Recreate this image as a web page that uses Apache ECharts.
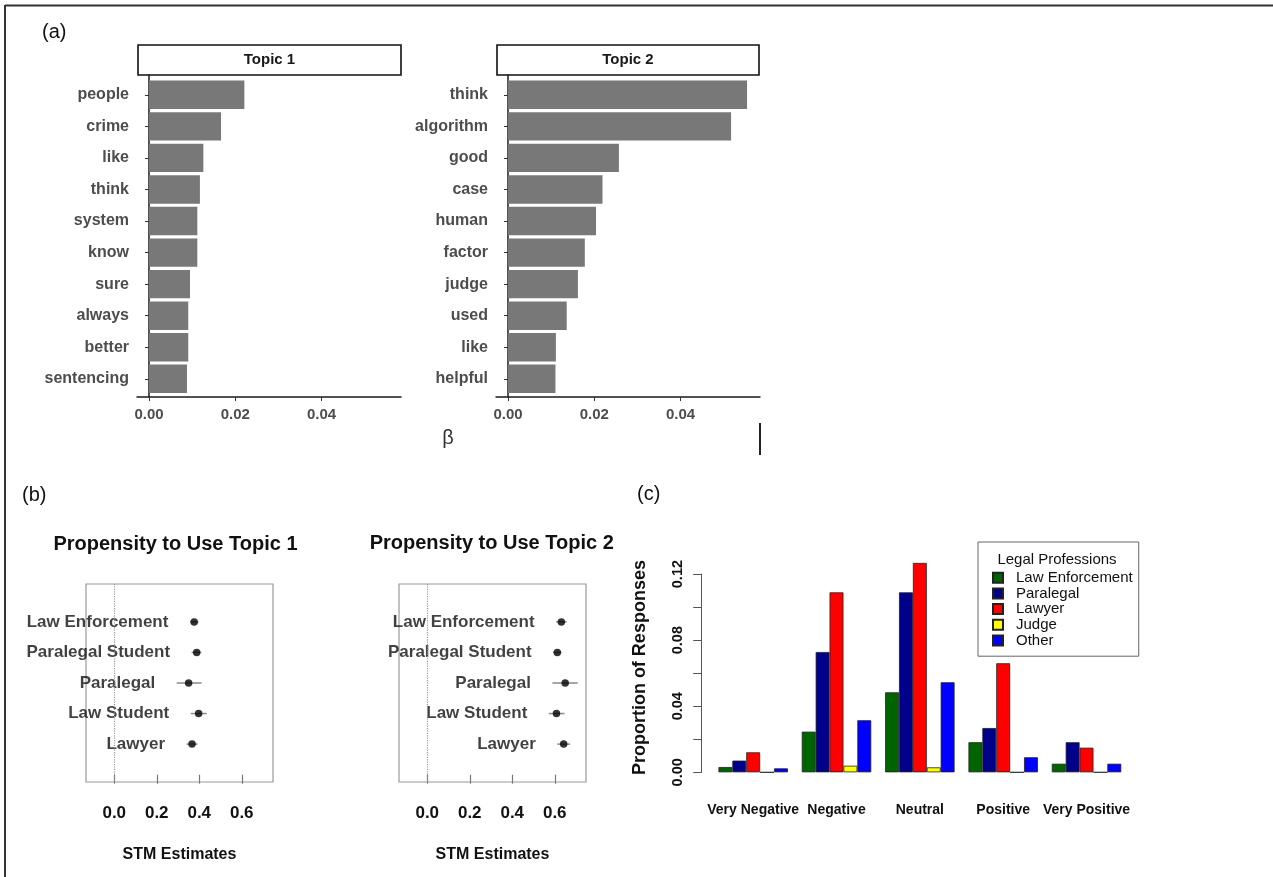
<!DOCTYPE html>
<html>
<head>
<meta charset="utf-8">
<script src="https://cdn.jsdelivr.net/npm/echarts@6/dist/echarts.min.js"></script>
<style>
html,body{margin:0;padding:0;background:#fff;}
#chart{width:1273px;height:877px;}
</style>
</head>
<body>
<div id="chart"></div>
<script>
// ---------- data: panel (a) ----------
const topic1Words = ['people','crime','like','think','system','know','sure','always','better','sentencing'];
const topic1Beta  = [0.0221,0.0167,0.0126,0.0118,0.0112,0.0112,0.0095,0.0091,0.0091,0.0088];
const topic2Words = ['think','algorithm','good','case','human','factor','judge','used','like','helpful'];
const topic2Beta  = [0.0554,0.0517,0.0257,0.0219,0.0204,0.0178,0.0162,0.0136,0.0111,0.0110];
const betaTicks = [0, 0.02, 0.04];

// ---------- data: panel (b) ----------
const professions = ['Law Enforcement','Paralegal Student','Paralegal','Law Student','Lawyer'];
const professionRows = [5,4,3,2,1];
const topic1Est = [0.376,0.388,0.350,0.397,0.366];
const topic1Lo  = [0.356,0.364,0.294,0.360,0.340];
const topic1Hi  = [0.396,0.410,0.411,0.435,0.392];
const topic2Est = [0.631,0.612,0.649,0.608,0.642];
const topic2Lo  = [0.606,0.592,0.589,0.572,0.612];
const topic2Hi  = [0.656,0.632,0.708,0.646,0.672];
const stmTicks = [0, 0.2, 0.4, 0.6];

// ---------- data: panel (c) ----------
const sentiments = ['Very Negative','Negative','Neutral','Positive','Very Positive'];
const legalGroups = ['Law Enforcement','Paralegal','Lawyer','Judge','Other'];
const lawEnforcement = [0.0032,0.0246,0.0484,0.0182,0.0052];
const paralegal      = [0.0071,0.0728,0.1089,0.0268,0.0182];
const lawyer         = [0.0121,0.1089,0.1267,0.0660,0.0149];
const judge          = [0,0.0040,0.0030,0,0];
const other          = [0.0024,0.0315,0.0545,0.0091,0.0052];
const proportionTicks  = [0,0.02,0.04,0.06,0.08,0.10,0.12];
const proportionLabels = [0,0.04,0.08,0.12];
const groupColors = ['#006400','#00008B','#FF0000','#FFFF00','#0000FF'];

// ---------- build ----------
const FONT = '"Liberation Sans", Arial, Helvetica, sans-serif';
const chart = echarts.init(document.getElementById('chart'), null, {renderer:'canvas'});

const betaMin = -0.00278, betaMax = 0.0584;
const stmMin = -0.133, stmMax = 0.747;

function barGrid(left){ return [
  {left:left, top:79, width:264, height:315.6, outerBoundsMode:'none'},
  {left:left, top:75, width:264, height:322, outerBoundsMode:'none'}
];}

const grids = [].concat(
  barGrid(137), barGrid(496),
  [{left:86, top:584, width:187, height:198, show:true, borderColor:'#9a9a9a', borderWidth:1.2, outerBoundsMode:'none'},
   {left:399, top:584, width:187, height:198, show:true, borderColor:'#9a9a9a', borderWidth:1.2, outerBoundsMode:'none'},
   {left:711.5, top:554.5, width:416.7, height:226.2, outerBoundsMode:'none'},
   {left:701.7, top:574.1, width:436, height:198.2, outerBoundsMode:'none'}]
);

const xAxes = [], yAxes = [];
function betaAxes(gBars, gFrame, words){
  xAxes.push({gridIndex:gBars, type:'value', min:betaMin, max:betaMax, show:false});
  yAxes.push({gridIndex:gBars, type:'category', data:words, inverse:true,
    axisLine:{show:false},
    axisTick:{show:true, alignWithLabel:true, length:4, lineStyle:{color:'#333', width:1}},
    axisLabel:{color:'#4d4d4d', fontWeight:'bold', fontSize:16, fontFamily:FONT, margin:8, interval:0}});
  xAxes.push({gridIndex:gFrame, type:'value', min:betaMin, max:betaMax,
    splitLine:{show:false},
    axisLine:{show:true, lineStyle:{color:'#1a1a1a', width:1.5}},
    axisTick:{show:true, customValues:betaTicks, length:4, lineStyle:{color:'#333', width:1}},
    axisLabel:{customValues:betaTicks, formatter:v=>v.toFixed(2), color:'#4d4d4d', fontWeight:'bold', fontSize:15, fontFamily:FONT, margin:10}});
  yAxes.push({gridIndex:gFrame, type:'value', min:0, max:1,
    splitLine:{show:false}, axisTick:{show:false}, axisLabel:{show:false},
    axisLine:{show:true, lineStyle:{color:'#1a1a1a', width:1.5}}});
}
betaAxes(0,1,topic1Words);
betaAxes(2,3,topic2Words);

function stmAxes(g){
  xAxes.push({gridIndex:g, type:'value', min:stmMin, max:stmMax,
    splitLine:{show:false}, axisLine:{show:false},
    axisTick:{show:true, customValues:stmTicks, length:9, lineStyle:{color:'#777', width:1.2}},
    axisLabel:{customValues:stmTicks, formatter:v=>v.toFixed(1), color:'#111', fontWeight:'bold', fontSize:17, fontFamily:FONT, margin:23},
    name:'STM Estimates', nameLocation:'middle', nameGap:65,
    nameTextStyle:{color:'#111', fontWeight:'bold', fontSize:16, fontFamily:FONT}});
  yAxes.push({gridIndex:g, type:'value', min:-0.24, max:6.24, show:false});
}
stmAxes(4); stmAxes(5);

// panel (c)
xAxes.push({gridIndex:6, type:'category', data:sentiments,
  axisLine:{show:false}, axisTick:{show:false},
  axisLabel:{interval:0, color:'#111', fontWeight:'bold', fontSize:14, fontFamily:FONT, margin:22}});
yAxes.push({gridIndex:6, type:'value', min:-0.00507, max:0.1318,
  axisLine:{show:false}, axisTick:{show:false}, axisLabel:{show:false}, splitLine:{show:false},
  name:'Proportion of Responses', nameLocation:'middle', nameGap:62,
  nameTextStyle:{color:'#111', fontWeight:'bold', fontSize:18, fontFamily:FONT}});
xAxes.push({gridIndex:7, type:'value', min:0, max:1, show:false});
yAxes.push({gridIndex:7, type:'value', min:0, max:0.12,
  splitLine:{show:false},
  axisLine:{show:true, lineStyle:{color:'#555', width:1}},
  axisTick:{show:true, customValues:proportionTicks, length:8.5, lineStyle:{color:'#555', width:1}},
  axisLabel:{customValues:proportionLabels, rotate:90, formatter:v=>v.toFixed(2), color:'#111', fontWeight:'bold', fontSize:14.5, fontFamily:FONT, margin:16}});

const series = [];
series.push({type:'bar', xAxisIndex:0, yAxisIndex:0, data:topic1Beta, barWidth:'90%', itemStyle:{color:'#787878'}, silent:true});
series.push({type:'bar', xAxisIndex:2, yAxisIndex:2, data:topic2Beta, barWidth:'90%', itemStyle:{color:'#787878'}, silent:true});

function stmSeries(ax, est, lo, hi){
  series.push({type:'custom', xAxisIndex:ax, yAxisIndex:ax, silent:true,
    data: professionRows.map((r,i)=>[lo[i], r, hi[i]]),
    renderItem:function(params, api){
      const p1 = api.coord([api.value(0), api.value(1)]);
      const p2 = api.coord([api.value(2), api.value(1)]);
      return {type:'line', shape:{x1:p1[0], y1:p1[1], x2:p2[0], y2:p2[1]}, style:{stroke:'#8a8a8a', lineWidth:1.5}};
    }});
  series.push({type:'scatter', xAxisIndex:ax, yAxisIndex:ax, silent:true,
    data: professionRows.map((r,i)=>[est[i], r]), symbol:'circle', symbolSize:7.5,
    itemStyle:{color:'#000'},
    markLine:{silent:true, symbol:['none','none'], label:{show:false},
      lineStyle:{type:'dotted', color:'#9a9a9a', width:1.2}, data:[{xAxis:0}]}});
  series.push({type:'scatter', xAxisIndex:ax, yAxisIndex:ax, silent:true,
    data: professionRows.map((r,i)=>({name:professions[i], value:[lo[i], r]})), symbolSize:1,
    itemStyle:{color:'rgba(0,0,0,0)'},
    label:{show:true, position:'left', distance:21, formatter:'{b}', color:'#111', fontWeight:'bold', fontSize:17, fontFamily:FONT}});
}
stmSeries(4, topic1Est, topic1Lo, topic1Hi);
stmSeries(5, topic2Est, topic2Lo, topic2Hi);

const groupData = [lawEnforcement, paralegal, lawyer, judge, other];
legalGroups.forEach((g,i)=>{
  series.push({type:'bar', name:g, xAxisIndex:6, yAxisIndex:6, data:groupData[i],
    barGap:'0%', barCategoryGap:'16.667%', silent:true,
    itemStyle:{color:groupColors[i], borderColor:'#222', borderWidth:0.8}});
});

const T = (txt, x, y, size, weight, color, align) => ({type:'text', silent:true,
  style:{text:txt, x:x, y:y, fill:color||'#111', font:(weight||'normal')+' '+size+'px '+FONT, textAlign:align||'left', textVerticalAlign:'middle'}});

const graphics = [
  {type:'line', silent:true, shape:{x1:5, y1:5.5, x2:1273, y2:5.5}, style:{stroke:'#333', lineWidth:2}},
  {type:'line', silent:true, shape:{x1:5, y1:5, x2:5, y2:877}, style:{stroke:'#333', lineWidth:2}},
  T('(a)', 42, 32, 20, 'normal', '#111'),
  T('(b)', 22, 495, 20, 'normal', '#111'),
  T('(c)', 637, 494, 20, 'normal', '#111'),
  {type:'rect', silent:true, shape:{x:138, y:45, width:263, height:30}, style:{fill:'#fff', stroke:'#111', lineWidth:1.6}},
  T('Topic 1', 269.5, 60, 15, 'bold', '#1a1a1a', 'center'),
  {type:'rect', silent:true, shape:{x:497, y:45, width:262, height:30}, style:{fill:'#fff', stroke:'#111', lineWidth:1.6}},
  T('Topic 2', 628, 60, 15, 'bold', '#1a1a1a', 'center'),
  T('β', 448, 438, 20, 'normal', '#333', 'center'),
  {type:'line', silent:true, shape:{x1:760, y1:423, x2:760, y2:455}, style:{stroke:'#222', lineWidth:2}},
  T('Propensity to Use Topic 1', 175.5, 544, 20, 'bold', '#111', 'center'),
  T('Propensity to Use Topic 2', 491.7, 543, 20, 'bold', '#111', 'center'),
  T('Legal Professions', 1057, 559.5, 15, 'normal', '#111', 'center')
];

chart.setOption({
  animation:false,
  backgroundColor:'#fff',
  textStyle:{fontFamily:FONT},
  grid:grids,
  xAxis:xAxes,
  yAxis:yAxes,
  legend:{data:legalGroups, orient:'vertical', left:978, top:542,
    padding:[28,6,8,14], itemWidth:10, itemHeight:10, itemGap:0.3, icon:'rect',
    borderColor:'#666', borderWidth:1, selectedMode:false,
    textStyle:{fontSize:15, color:'#111', fontFamily:FONT, lineHeight:15.4, padding:[0,0,0,8]}},
  series:series,
  graphic:graphics
});
</script>
</body>
</html>
